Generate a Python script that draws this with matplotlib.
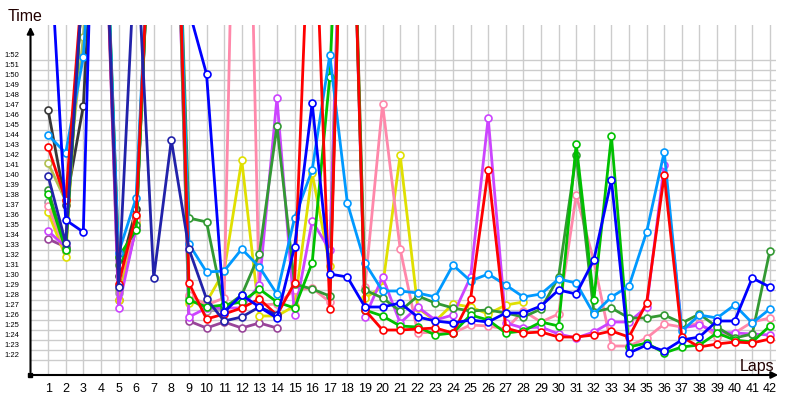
"""
Lap chart: lap times per driver, 42 laps.
Times are stored in seconds; values above ~1:55 fall outside the plot area.
"""

import numpy as np
import matplotlib.pyplot as plt
from matplotlib.transforms import ScaledTranslation

plt.rcParams['font.family'] = ['Liberation Sans', 'DejaVu Sans']

# ── Data ──────────────────────────────────────────────────────────────────────
laps = list(range(1, 43))
y_ticks = list(range(82, 113))          # 1:22 .. 1:52

blue = [127, 96, 94.8, 160, 130, 130, 135, 150, 117, 110.6, 86.8, 88.5, 87.3, 86.2,
        93.3, 107.7, 90.6, 90.3, 87.3, 87.3, 87.7, 86.3, 85.9, 85.7, 86.0, 85.8, 86.7,
        86.7, 87.4, 89.0, 88.6, 92.0, 100.0, 82.7, 83.5, 82.9, 84.0, 84.3, 85.9, 85.9,
        90.2, 89.3]
navy = [100.4, 93.7, 121, 140, 89.3, 125, 90.2, 104, 93.1, 88.1, 85.9, 86.3, 87.3,
        86.5] + [None] * 28
red = [103.3, 98, 121, 140, 89.6, 96.5, 135, 150, 89.7, 86.1, 86.6, 87.2, 88.1, 86.5,
       89.7, 135, 87.1, 150, 87.0, 85.0, 85.0, 85.1, 85.2, 84.7, 88.1, 101.0, 85.2,
       84.7, 84.8, 84.3, 84.3, 84.5, 84.9, 84.3, 87.7, 100.5, 84.3, 83.3, 83.6, 83.8,
       83.7, 84.1]
green = [98.6, 93, 121, 140, 92.3, 95, 135, 150, 88, 87.3, 87.5, 87.8, 89.1, 87.8,
         87.2, 91.7, 110.3, 150, 87.0, 86.4, 85.4, 85.3, 84.5, 84.7, 86.5, 86.0, 84.7,
         84.9, 85.8, 85.4, 103.6, 88.0, 104.4, 83.3, 83.7, 82.7, 83.3, 83.5, 84.7, 84.0,
         83.8, 85.4]
darkgreen = [99, 93.2, 121, 140, 91.5, 95.5, 135, 150, 96.2, 95.8, 87.2, 88.5, 92.6,
             105.4, 89.6, 89.1, 88.4, 150, 89.0, 88.2, 86.9, 88.4, 87.7, 87.2, 86.9, 87.0,
             86.7, 86.3, 87.1, 90.3, 102.5, 86.8, 87.2, 86.2, 86.2, 86.5, 85.7, 86.6,
             85.3, 84.2, 84.6, 92.9]
lightblue = [104.5, 102.7, 112.3, 140, 92.7, 98.2, 135, 150, 93.6, 90.8, 90.9, 93.1,
             91.3, 88.6, 96.2, 101.0, 112.5, 97.7, 91.7, 88.9, 88.9, 88.7, 88.3, 91.5,
             89.9, 90.6, 89.5, 88.3, 88.6, 90.1, 89.7, 86.6, 88.3, 89.4, 94.8, 102.8,
             84.9, 86.5, 86.2, 87.5, 85.7, 87.1]
pink = [97.4, 93, 121, 140, 89.5, 96, 135, 150, 88.5, 87.5, 88.2, 170, 87.5, 87.6, 89.0,
        89.2, 87.8, 150, 89.3, 107.6, 93.1, 84.7, 84.8, 84.7, 85.5, 85.4, 85.1, 86.9,
        85.8, 86.6, 98.5, 91.9, 83.4, 83.4, 84.2, 85.6, 85.3, 85.7, 84.3, 84.7, 85.8, 86.2]
magenta = [94.9, 93.3, 121, 140, 87.2, 95.3, 135, 150, 86.3, 87.2, 87.2, 87.2, 89.5,
           108.2, 86.5, 95.9, 93.0, 150, 86.3, 90.3, 85.7, 87.3, 86.0, 86.5, 90.3, 106.2,
           85.7, 85.2, 85.3, 84.6, 84.2, 84.8, 85.8, 85.8, 87.3, 101.5, 85.2, 85.5, 84.8,
           84.7, 84.6, 84.5]
yellow = [96.8, 92.3, 121, 140, 88, 95.8, 135, 150, 87.7, 87.8, 90.9, 102.0, 86.4, 86.4,
          87.4, 100.7, 91.4, 150, 88.2, 89.3, 102.5, 87.2, 85.9, 87.6, 87.3, 86.6, 87.5,
          87.8] + [None] * 14
black = [107, 97.5, 107.4, 140, 90.4, 97.1, 135, 150] + [None] * 34
purple = [94.1, 93.3, 121, 140, 88, 95.2, 135, 150, 85.9, 85.2, 85.8, 85.2, 85.7,
          85.2] + [None] * 28
gray = [97.8, 92.9, 121, 140, 88.7, 95.5, 135, 150, 88.3, 86.9, 87.0] + [None] * 31
yellowgreen = [101.7, 97.9, 114.3, 140, 89, 96.3, 135, 150] + [None] * 34

series = [
    (yellowgreen, '#b0c050'),
    (gray, '#a0a0a0'),
    (black, '#383838'),
    (purple, '#994499'),
    (yellow, '#e0e000'),
    (pink, '#ff88aa'),
    (magenta, '#cc44ff'),
    (darkgreen, '#339933'),
    (green, '#00c000'),
    (lightblue, '#0099ff'),
    (red, '#ff0000'),
    (navy, '#2222aa'),
    (blue, '#0000ff'),
]

# ── Figure ────────────────────────────────────────────────────────────────────
fig = plt.figure(figsize=(8, 4), dpi=100)
ax = fig.add_axes([30.5 / 800, 25 / 400, 745.5 / 800, 350 / 400])
ax.set_xlim(0, 42.35)
ax.set_ylim(80.5, 115.5)

for values, color in series:
    ax.plot(laps, np.array(values, dtype=float), color=color, lw=2,
            marker='o', ms=5, mfc='white', mec=color, mew=1.2)

ax.set_xticks(laps)
ax.set_yticks(y_ticks)
ax.set_yticklabels([f'{t // 60}:{t % 60:02d}' for t in y_ticks])
ax.grid(True, color='#cccccc', lw=1)
ax.set_axisbelow(True)
ax.tick_params(axis='x', length=0, pad=6, labelsize=9)
ax.tick_params(axis='y', length=0, pad=8, labelsize=5.5)
for lbl in ax.get_yticklabels():
    lbl.set_transform(lbl.get_transform() + ScaledTranslation(0, 0.05, fig.dpi_scale_trans))
for s in ax.spines.values():
    s.set_visible(False)

# axes with arrows
ax.annotate('', xy=(30.5 / 800, 1 - 24 / 400), xytext=(30.5 / 800, 1 - 375 / 400),
            xycoords='figure fraction', arrowprops=dict(arrowstyle='-|>', color='black',
                                                        lw=1.5, mutation_scale=10))
ax.annotate('', xy=(781 / 800, 1 - 375 / 400), xytext=(30.5 / 800, 1 - 375 / 400),
            xycoords='figure fraction', arrowprops=dict(arrowstyle='-|>', color='black',
                                                        lw=1.5, mutation_scale=10))
fig.patches.append(plt.Rectangle((28.5 / 800, 1 - 377 / 400), 4 / 800, 4 / 400,
                                 transform=fig.transFigure, color='black'))

fig.text(8 / 800, 1 - 21 / 400, 'Time', fontsize=11.5, ha='left', va='baseline',
         color='#200000')
fig.text(774 / 800, 1 - 371 / 400, 'Laps', fontsize=11.5, ha='right', va='baseline',
         color='#200000')

fig.savefig('out.png', dpi=100)
